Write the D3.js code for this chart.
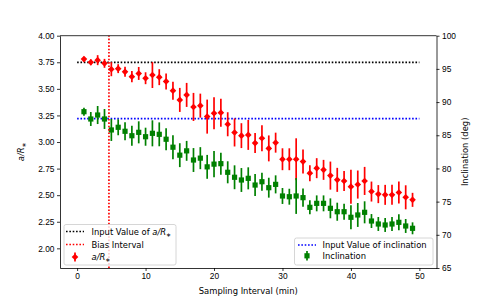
<!DOCTYPE html>
<html>
<head>
<meta charset="utf-8">
<script src="https://cdn.jsdelivr.net/npm/d3@7"></script>
<style>
  body { margin: 0; background: #fff; }
  svg { display: block; font-family: "DejaVu Sans", sans-serif; }
  .axis text { font-size: 8.4px; fill: #000; }
  .axis path, .axis line { stroke: #000; stroke-width: 0.8; }
</style>
</head>
<body>
<svg id="chart" width="485" height="303"></svg>
<script>
// values

var intervals = d3.range(1, 50);

var aR = [3.78, 3.75, 3.77, 3.74, 3.685, 3.69, 3.66, 3.615, 3.645, 3.60,
  3.63, 3.61, 3.57, 3.483, 3.396, 3.443, 3.33, 3.342, 3.239, 3.27,
  3.276, 3.167, 3.09, 3.06, 3.067, 2.99, 3.036, 2.94, 2.994, 2.838,
  2.838, 2.838, 2.816, 2.707, 2.754, 2.738, 2.684, 2.644, 2.634, 2.58,
  2.60, 2.634, 2.534, 2.51, 2.503, 2.503, 2.525, 2.48, 2.456];
var aRErr = [0.023, 0.028, 0.047, 0.042, 0.066, 0.042, 0.047, 0.052, 0.061, 0.056,
  0.122, 0.075, 0.075, 0.085, 0.113, 0.113, 0.132, 0.113, 0.16, 0.15,
  0.132, 0.113, 0.132, 0.117, 0.141, 0.094, 0.122, 0.122, 0.094, 0.103,
  0.103, 0.197, 0.113, 0.075, 0.094, 0.094, 0.132, 0.113, 0.094, 0.16,
  0.132, 0.132, 0.094, 0.085, 0.094, 0.094, 0.103, 0.113, 0.066];

var incl = [88.55, 87.45, 88.05, 87.45, 85.8, 86.2, 85.6, 84.93, 85.44, 84.78,
  85.29, 85.14, 84.4, 83.2, 82.0, 82.65, 81.27, 81.55, 80.24, 80.65,
  80.72, 79.42, 78.67, 78.26, 78.51, 77.5, 78.0, 77.1, 77.6, 75.85,
  75.74, 75.85, 75.6, 74.14, 74.74, 74.74, 73.99, 73.48, 73.48, 72.64,
  72.99, 73.39, 72.08, 71.63, 71.48, 71.63, 71.88, 71.33, 70.98];
var inclErr = [0.6, 1.05, 1.36, 1.5, 1.66, 1.2, 1.36, 1.5, 1.66, 1.36,
  1.96, 1.8, 1.66, 1.8, 1.8, 1.5, 1.8, 1.66, 1.8, 1.96,
  1.66, 1.66, 1.8, 1.8, 1.66, 1.66, 1.36, 1.5, 1.36, 1.2,
  1.2, 2.7, 1.36, 1.05, 1.2, 1.2, 1.5, 1.36, 1.2, 1.8,
  1.8, 1.66, 1.05, 1.05, 1.05, 1.05, 1.2, 1.05, 0.9];

var inputAR = 3.75;
var inputIncl = 87.5;
var biasInterval = 4.65;
var lineSpan = [0, 50];

var xTicks = [0, 10, 20, 30, 40, 50];
var leftTicks = [2.0, 2.25, 2.5, 2.75, 3.0, 3.25, 3.5, 3.75, 4.0];
var rightTicks = [65, 70, 75, 80, 85, 90, 95, 100];

var dims = { width: 485, height: 303,
  margins: { top: 35.7, bottom: 35, left: 60, right: 48.5 } };

var svg = d3.select('#chart');
var x = d3.scaleLinear().domain([-2.5, 52.5])
  .range([dims.margins.left, dims.width - dims.margins.right]);
var yL = d3.scaleLinear().domain([1.815, 4.0])
  .range([dims.height - dims.margins.bottom, dims.margins.top]);
var yR = d3.scaleLinear().domain([65, 100])
  .range([dims.height - dims.margins.bottom, dims.margins.top]);

var dotted = '1.6,1.75';

// input lines
svg.append('line')
  .attr('x1', x(lineSpan[0])).attr('x2', x(lineSpan[1]))
  .attr('y1', yL(inputAR)).attr('y2', yL(inputAR))
  .attr('stroke', '#000').attr('stroke-width', 1.7).attr('stroke-dasharray', dotted);
svg.append('line')
  .attr('x1', x(lineSpan[0])).attr('x2', x(lineSpan[1]))
  .attr('y1', yR(inputIncl)).attr('y2', yR(inputIncl))
  .attr('stroke', '#0000ff').attr('stroke-width', 1.7).attr('stroke-dasharray', dotted);

// a/R* error bars + diamonds
var red = svg.append('g');
red.selectAll('line').data(intervals).enter().append('line')
  .attr('x1', (d) => x(d)).attr('x2', (d) => x(d))
  .attr('y1', (d, i) => yL(aR[i] - aRErr[i]))
  .attr('y2', (d, i) => yL(aR[i] + aRErr[i]))
  .attr('stroke', '#ff0000').attr('stroke-width', 1.7);
red.selectAll('path').data(intervals).enter().append('path')
  .attr('d', (d, i) => {
    var cx = x(d), cy = yL(aR[i]), r = 3.3;
    return 'M' + cx + ',' + (cy - r) + 'L' + (cx + r) + ',' + cy +
      'L' + cx + ',' + (cy + r) + 'L' + (cx - r) + ',' + cy + 'Z';
  })
  .attr('fill', '#ff0000');

// inclination error bars + squares
var green = svg.append('g');
green.selectAll('line').data(intervals).enter().append('line')
  .attr('x1', (d) => x(d)).attr('x2', (d) => x(d))
  .attr('y1', (d, i) => yR(incl[i] - inclErr[i]))
  .attr('y2', (d, i) => yR(incl[i] + inclErr[i]))
  .attr('stroke', '#008000').attr('stroke-width', 1.7);
green.selectAll('rect').data(intervals).enter().append('rect')
  .attr('x', (d) => x(d) - 2.6).attr('y', (d, i) => yR(incl[i]) - 2.6)
  .attr('width', 5.2).attr('height', 5.2)
  .attr('fill', '#008000');

// bias interval
svg.append('line')
  .attr('x1', x(biasInterval)).attr('x2', x(biasInterval))
  .attr('y1', yL.range()[0]).attr('y2', yL.range()[1])
  .attr('stroke', '#ff0000').attr('stroke-width', 1.7).attr('stroke-dasharray', dotted);

// axes
var bottom = dims.height - dims.margins.bottom;
svg.append('g').attr('class', 'axis')
  .attr('transform', 'translate(0,' + bottom + ')')
  .call(d3.axisBottom(x).tickValues(xTicks).tickSize(3).tickPadding(2.5).tickSizeOuter(0));
svg.append('g').attr('class', 'axis')
  .attr('transform', 'translate(' + dims.margins.left + ',0)')
  .call(d3.axisLeft(yL).tickValues(leftTicks).tickFormat(d3.format('.2f'))
    .tickSize(3).tickPadding(2.5).tickSizeOuter(0));
svg.append('g').attr('class', 'axis')
  .attr('transform', 'translate(' + (dims.width - dims.margins.right) + ',0)')
  .call(d3.axisRight(yR).tickValues(rightTicks).tickSize(3).tickPadding(2.5).tickSizeOuter(0));
svg.append('line')
  .attr('x1', dims.margins.left).attr('x2', dims.width - dims.margins.right)
  .attr('y1', dims.margins.top).attr('y2', dims.margins.top)
  .attr('stroke', '#000').attr('stroke-width', 0.8);

// axis labels
svg.append('text')
  .attr('x', (x.range()[0] + x.range()[1]) / 2).attr('y', 294)
  .attr('text-anchor', 'middle').attr('font-size', 8.4)
  .text('Sampling Interval (min)');

var yl = svg.append('text')
  .attr('transform', 'translate(24,' + (dims.margins.top + bottom) / 2 + ') rotate(-90)')
  .attr('text-anchor', 'middle').attr('font-size', 8.4);
yl.append('tspan').attr('font-style', 'italic').text('a/R');
yl.append('tspan').attr('font-size', 6).attr('dy', 2).text('∗');

svg.append('text')
  .attr('transform', 'translate(468,' + (dims.margins.top + bottom) / 2 + ') rotate(-90)')
  .attr('text-anchor', 'middle').attr('font-size', 8.4)
  .text('Inclination (deg)');

// legends
function legendBox(x0, y0, w, h) {
  svg.append('rect')
    .attr('x', x0).attr('y', y0).attr('width', w).attr('height', h)
    .attr('rx', 2).attr('fill', '#fff').attr('fill-opacity', 0.8)
    .attr('stroke', '#cccccc').attr('stroke-width', 0.8);
}
function legendLine(x0, y0, colour) {
  svg.append('line')
    .attr('x1', x0).attr('x2', x0 + 18).attr('y1', y0).attr('y2', y0)
    .attr('stroke', colour).attr('stroke-width', 1.7).attr('stroke-dasharray', dotted);
}
function legendText(x0, y0) {
  return svg.append('text').attr('x', x0).attr('y', y0 + 3).attr('font-size', 8.4);
}

legendBox(64, 224.5, 112, 40.5);
legendLine(66, 231.5, '#000');
var t1 = legendText(91.5, 231.5);
t1.append('tspan').text('Input Value of ');
t1.append('tspan').attr('font-style', 'italic').text('a/R');
t1.append('tspan').attr('font-size', 6).attr('dy', 2).text('∗');
legendLine(66, 244.5, '#ff0000');
legendText(91.5, 244.5).text('Bias Interval');
svg.append('line').attr('x1', 75).attr('x2', 75).attr('y1', 252.5).attr('y2', 261.5)
  .attr('stroke', '#ff0000').attr('stroke-width', 1.7);
svg.append('path').attr('d', 'M75,253.7L78.3,257L75,260.3L71.7,257Z').attr('fill', '#ff0000');
var t3 = legendText(91.5, 257);
t3.append('tspan').attr('font-style', 'italic').text('a/R');
t3.append('tspan').attr('font-size', 6).attr('dy', 2).text('∗');

legendBox(294.5, 238, 138.5, 27);
legendLine(298, 245, '#0000ff');
legendText(322.5, 245).text('Input Value of inclination');
svg.append('line').attr('x1', 307).attr('x2', 307).attr('y1', 251).attr('y2', 260.5)
  .attr('stroke', '#008000').attr('stroke-width', 1.7);
svg.append('rect').attr('x', 304.4).attr('y', 253.2).attr('width', 5.2).attr('height', 5.2)
  .attr('fill', '#008000');
legendText(322.5, 255.8).text('Inclination');
</script>
</body>
</html>
